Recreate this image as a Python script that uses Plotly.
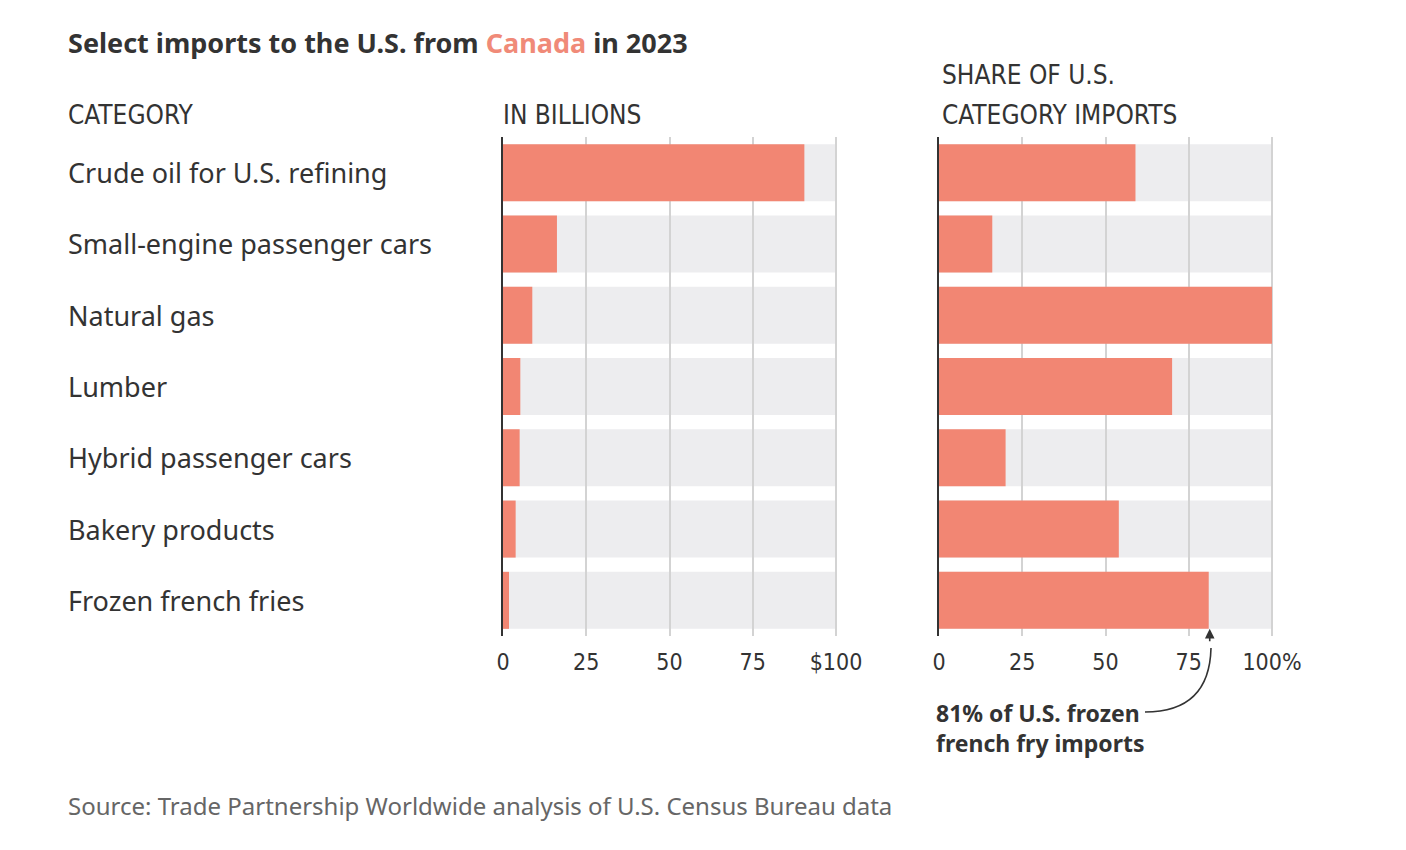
import plotly.graph_objects as go

categories = ["Crude oil for U.S. refining", "Small-engine passenger cars", "Natural gas",
              "Lumber", "Hybrid passenger cars", "Bakery products", "Frozen french fries"]
billions = [90.5, 16.2, 8.8, 5.2, 5.0, 3.8, 1.8]
share_pct = [59, 16, 100, 70, 20, 54, 81]
tick_vals = [0, 25, 50, 75, 100]
billions_ticks = ["0", "25", "50", "75", "$100"]
share_ticks = ["0", "25", "50", "75", "100%"]

W, H = 1406, 850
def px(x): return x / W
def py(y): return 1 - y / H

RED = "#F28673"
BAND = "#EDEDEF"
GRID = "#D3D3D3"
DARK = "#333333"
BODY = "'Noto Sans', 'Open Sans', sans-serif"
NARROW = "'Liberation Sans Narrow', 'DejaVu Sans Condensed', 'Roboto Condensed', 'Noto Sans', sans-serif"

unit = 333.0 / 100  # pixels per unit
xmax = 101
fig = go.Figure()
fig.add_trace(go.Bar(y=categories, x=billions, orientation="h", marker=dict(color=RED, line=dict(width=0)),
                     width=0.8, xaxis="x", yaxis="y", hoverinfo="x+y", showlegend=False))
fig.add_trace(go.Bar(y=categories, x=share_pct, orientation="h", marker=dict(color=RED, line=dict(width=0)),
                     width=0.8, xaxis="x2", yaxis="y2", hoverinfo="x+y", showlegend=False))

shapes = []
for xr, yr in (("x", "y"), ("x2", "y2")):
    for i, c in enumerate(categories):
        shapes.append(dict(type="rect", xref=xr, yref=yr, x0=0, x1=100, y0=i - 0.4, y1=i + 0.4,
                           fillcolor=BAND, line=dict(width=0), layer="below"))

ytop, ybot = 137, 636
axis_common = dict(range=[0, xmax], tickvals=tick_vals, showgrid=True, gridcolor=GRID, gridwidth=1.5,
                   zeroline=False, showline=False, ticks="", automargin=False, ticklabelstandoff=10,
                   tickfont=dict(family=NARROW, size=23, color=DARK), fixedrange=True)
yaxis_common = dict(categoryorder="array", categoryarray=categories, range=[6.5, -0.5], showticklabels=False,
                    showgrid=False, zeroline=False, showline=True, linecolor=DARK, linewidth=2, ticks="",
                    automargin=False, domain=[py(ybot), py(ytop)], fixedrange=True)

fig.update_layout(
    width=W, height=H, margin=dict(l=0, r=0, t=0, b=0, autoexpand=False), autosize=False,
    paper_bgcolor="white", plot_bgcolor="rgba(0,0,0,0)",
    barmode="overlay", bargap=0.2,
    xaxis=dict(domain=[px(503), px(503 + unit * xmax)], ticktext=billions_ticks, anchor="y", **axis_common),
    xaxis2=dict(domain=[px(939), px(939 + unit * xmax)], ticktext=share_ticks, anchor="y2", **axis_common),
    yaxis=dict(anchor="x", **yaxis_common),
    yaxis2=dict(anchor="x2", **yaxis_common),
    shapes=shapes,
    font=dict(family=BODY, color=DARK),
)

ann = []
ann.append(dict(text="<b>Select imports to the U.S. from <span style='color:#F08A78'>Canada</span> in 2023</b>",
                x=px(66), y=py(43), xref="paper", yref="paper", xanchor="left", yanchor="middle",
                showarrow=False, font=dict(family=BODY, size=27, color=DARK)))
for txt, x, y in (("CATEGORY", 66, 115), ("IN BILLIONS", 501, 115), ("SHARE OF U.S.", 940, 75),
                  ("CATEGORY IMPORTS", 940, 115)):
    ann.append(dict(text=txt, x=px(x), y=py(y), xref="paper", yref="paper", xanchor="left", yanchor="middle",
                    showarrow=False, font=dict(family=NARROW, size=26, color=DARK)))
for c in categories:
    ann.append(dict(text=c, x=px(66), y=c, xref="paper", yref="y", xanchor="left", yanchor="middle",
                    showarrow=False, font=dict(family=BODY, size=27, color=DARK)))
ann.append(dict(text="<b>81% of U.S. frozen<br>french fry imports</b>", x=px(934), y=py(728),
                xref="paper", yref="paper", xanchor="left", yanchor="middle", align="left",
                showarrow=False, font=dict(family=BODY, size=23, color=DARK)))
ann.append(dict(text="Source: Trade Partnership Worldwide analysis of U.S. Census Bureau data",
                x=px(66), y=py(805), xref="paper", yref="paper", xanchor="left", yanchor="middle",
                showarrow=False, font=dict(family=BODY, size=24, color="#666666")))
# arrowhead pointing at the french fries share bar end
fry_share = share_pct[categories.index("Frozen french fries")]
ann.append(dict(text="", x=fry_share + 0.3, y=6.4, xref="x2", yref="y2", ax=0, ay=14, axref="pixel",
                ayref="pixel", showarrow=True, arrowhead=2, arrowsize=1.2, arrowwidth=1.6, arrowcolor=DARK,
                standoff=0))
fig.update_layout(annotations=ann)

# curved leader line
def P(x, y): return f"{px(x)},{py(y)}"
fig.add_shape(type="path", xref="paper", yref="paper",
              path=f"M {P(1145,712)} C {P(1188,712)} {P(1210,690)} {P(1211,648)}",
              line=dict(color=DARK, width=1.6), layer="above")

fig.write_html("out.html", config={"responsive": False, "displayModeBar": False},
               post_script="document.body.style.margin='0';document.body.style.overflow='hidden';")
